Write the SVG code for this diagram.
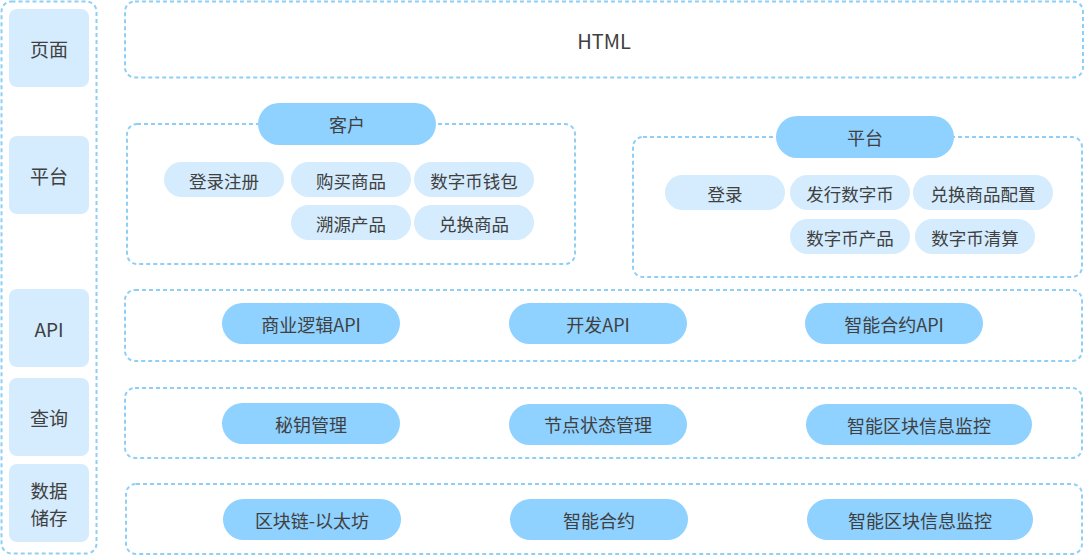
<svg xmlns="http://www.w3.org/2000/svg" width="1085" height="556" viewBox="0 0 1085 556">
<style>
.dash{fill:none;stroke:#8ECFF8;stroke-width:2;stroke-dasharray:4 3}
.side{fill:#D4ECFD}
.dark{fill:#8FD1FF}
.light{fill:#D4ECFD}
text{font-family:"Noto Sans CJK SC","Noto Sans",sans-serif;fill:#404040;text-anchor:middle;dominant-baseline:central}
.lbl{font-size:19px}
.p{font-size:18px}
.s{font-size:17.5px}
</style>
<rect width="1085" height="556" fill="#fff"/>
<g id="sidebar">
<rect class="dash" x="1.5" y="1.5" width="95" height="552" rx="10"/>
<g id="side-page"><rect class="side" x="9" y="9" width="80" height="78" rx="8"/><text class="lbl" x="49" y="48">页面</text></g>
<g id="side-platform"><rect class="side" x="9" y="136" width="80" height="78" rx="8"/><text class="lbl" x="49" y="175">平台</text></g>
<g id="side-api"><rect class="side" x="9" y="289" width="80" height="78" rx="8"/><text class="lbl" x="49" y="328">API</text></g>
<g id="side-query"><rect class="side" x="9" y="378" width="80" height="78" rx="8"/><text class="lbl" x="49" y="417">查询</text></g>
<g id="side-storage"><rect class="side" x="9" y="464" width="80" height="78" rx="8"/><text x="49" y="490" style="font-size:18.5px">数据</text><text x="49" y="517" style="font-size:18.5px">储存</text></g>
</g>
<g id="html">
<rect class="dash" x="125" y="1.5" width="958" height="76" rx="10"/>
<text x="604" y="40" style="font-size:20px">HTML</text>
</g>
<g id="customer">
<rect class="dash" x="127" y="124" width="448" height="140" rx="10"/>
<rect class="dark" x="258" y="103" width="178" height="42" rx="21"/>
<text class="p" x="347" y="124">客户</text>
<g id="c1"><rect class="light" x="164" y="162" width="120" height="35" rx="17.5"/><text class="s" x="224" y="180">登录注册</text></g>
<g id="c2"><rect class="light" x="291" y="162" width="120" height="35" rx="17.5"/><text class="s" x="351" y="180">购买商品</text></g>
<g id="c3"><rect class="light" x="414" y="162" width="120" height="35" rx="17.5"/><text class="s" x="474" y="180">数字币钱包</text></g>
<g id="c4"><rect class="light" x="291" y="205" width="120" height="35" rx="17.5"/><text class="s" x="351" y="223">溯源产品</text></g>
<g id="c5"><rect class="light" x="414" y="205" width="120" height="35" rx="17.5"/><text class="s" x="474" y="223">兑换商品</text></g>
</g>
<g id="platform">
<rect class="dash" x="633" y="137" width="449" height="140" rx="10"/>
<rect class="dark" x="776" y="116" width="178" height="42" rx="21"/>
<text class="p" x="865" y="137">平台</text>
<g id="p1"><rect class="light" x="665" y="175" width="120" height="35" rx="17.5"/><text class="s" x="725" y="193">登录</text></g>
<g id="p2"><rect class="light" x="790" y="175" width="120" height="35" rx="17.5"/><text class="s" x="850" y="193">发行数字币</text></g>
<g id="p3"><rect class="light" x="913" y="175" width="140" height="35" rx="17.5"/><text class="s" x="983" y="193">兑换商品配置</text></g>
<g id="p4"><rect class="light" x="790" y="219" width="120" height="35" rx="17.5"/><text class="s" x="850" y="237">数字币产品</text></g>
<g id="p5"><rect class="light" x="915" y="219" width="120" height="35" rx="17.5"/><text class="s" x="975" y="237">数字币清算</text></g>
</g>
<g id="api">
<rect class="dash" x="125" y="290" width="957" height="71" rx="10"/>
<g id="a1"><rect class="dark" x="222" y="303" width="178" height="41" rx="20.5"/><text class="p" x="311" y="324">商业逻辑API</text></g>
<g id="a2"><rect class="dark" x="509" y="303" width="178" height="41" rx="20.5"/><text class="p" x="598" y="324">开发API</text></g>
<g id="a3"><rect class="dark" x="805" y="303" width="178" height="41" rx="20.5"/><text class="p" x="894" y="324">智能合约API</text></g>
</g>
<g id="query">
<rect class="dash" x="125" y="388" width="957" height="70" rx="10"/>
<g id="q1"><rect class="dark" x="222" y="403" width="178" height="41" rx="20.5"/><text class="p" x="311" y="424">秘钥管理</text></g>
<g id="q2"><rect class="dark" x="509" y="404" width="178" height="41" rx="20.5"/><text class="p" x="598" y="424">节点状态管理</text></g>
<g id="q3"><rect class="dark" x="806" y="404" width="226" height="41" rx="20.5"/><text class="p" x="919" y="425">智能区块信息监控</text></g>
</g>
<g id="storage">
<rect class="dash" x="126" y="484" width="956" height="70" rx="10"/>
<g id="s1"><rect class="dark" x="223" y="499" width="178" height="41" rx="20.5"/><text class="p" x="312" y="520">区块链-以太坊</text></g>
<g id="s2"><rect class="dark" x="510" y="499" width="178" height="41" rx="20.5"/><text class="p" x="599" y="520">智能合约</text></g>
<g id="s3"><rect class="dark" x="807" y="499" width="226" height="41" rx="20.5"/><text class="p" x="920" y="520">智能区块信息监控</text></g>
</g>
<g id="connectors"/>
</svg>
